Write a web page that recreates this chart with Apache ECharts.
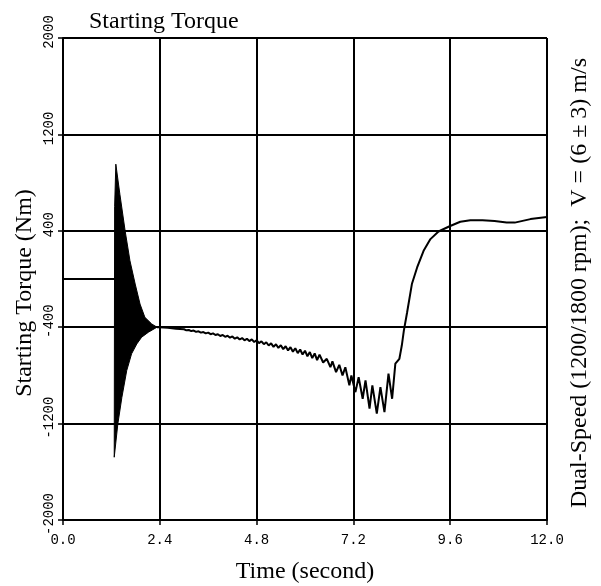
<!DOCTYPE html>
<html>
<head>
<meta charset="utf-8">
<script src="https://cdn.jsdelivr.net/npm/echarts@6/dist/echarts.min.js"></script>
<style>
  html, body { margin: 0; padding: 0; background: #fff; }
  #chart { width: 601px; height: 586px; }
</style>
</head>
<body>
<div id="chart"></div>
<script>
// tick labels
var timeTicks = [0, 2.4, 4.8, 7.2, 9.6, 12];
var torqueTicks = [-2000, -1200, -400, 400, 1200, 2000];

// before switching on: flat at zero
var preTime = [0, 1.28];
var preTorque = [0, 0];

// dense oscillation, drawn as its envelope
var envUpperTime = [1.28, 1.31, 1.41, 1.54, 1.66, 1.79, 1.91, 2.03, 2.20, 2.33];
var envUpper = [600, 953, 704, 400, 151, -42, -208, -318, -373, -400];
var envLowerTime = [1.27, 1.36, 1.46, 1.58, 1.70, 1.83, 1.95, 2.12, 2.33];
var envLower = [-1479, -1202, -982, -760, -621, -539, -483, -441, -400];

// after the transient
var runTime = [
  2.33, 2.40, 2.60, 2.80, 3.00, 3.06, 3.12, 3.18, 3.24, 3.30,
  3.36, 3.42, 3.48, 3.54, 3.60, 3.66, 3.72, 3.78, 3.84, 3.90,
  3.96, 4.02, 4.08, 4.14, 4.20, 4.26, 4.32, 4.38, 4.44, 4.50,
  4.56, 4.62, 4.68, 4.74, 4.80, 4.86, 4.92, 4.98, 5.04, 5.10,
  5.16, 5.22, 5.28, 5.34, 5.40, 5.46, 5.52, 5.58, 5.64, 5.70,
  5.76, 5.82, 5.88, 5.94, 6.00, 6.06, 6.12, 6.18, 6.24, 6.30,
  6.36, 6.45, 6.54, 6.63, 6.68, 6.77, 6.85, 6.93, 7.00, 7.10,
  7.15, 7.25, 7.33, 7.43, 7.50, 7.60, 7.67, 7.78, 7.87, 7.97,
  8.07, 8.16, 8.24, 8.28, 8.34, 8.40, 8.45, 8.53, 8.65, 8.78,
  8.94, 9.11, 9.31, 9.44, 9.60, 9.85, 10.10, 10.40, 10.70, 11.00,
  11.20, 11.59, 12.00
];
var runTorque = [
  -400, -400, -405, -412, -417, -426, -423, -432, -428, -439,
  -434, -445, -440, -451, -445, -458, -451, -465, -458, -473,
  -464, -480, -471, -487, -477, -495, -484, -502, -490, -509,
  -496, -515, -501, -523, -508, -532, -517, -541, -525, -552,
  -534, -563, -542, -572, -549, -582, -558, -593, -566, -603,
  -575, -615, -585, -627, -595, -641, -606, -657, -617, -673,
  -627, -693, -662, -732, -684, -773, -712, -800, -732, -883,
  -800, -939, -815, -994, -842, -1076, -883, -1118, -897, -1105,
  -786, -994, -703, -718, -662, -552, -430, -280, -42, 96,
  234, 331, 394, 415, 440, 475, 487, 488, 481, 469,
  468, 497, 515
];

function pairs(xs, ys) {
  return xs.map(function (x, i) { return [x, ys[i]]; });
}

var chart = echarts.init(document.getElementById('chart'));

var serif = '"Liberation Serif", "DejaVu Serif", serif';
var mono = '"Liberation Mono", "DejaVu Sans Mono", monospace';

var option = {
  animation: false,
  title: {
    text: 'Starting Torque',
    left: 84,
    top: 5,
    textStyle: { fontFamily: serif, fontWeight: 'normal', fontSize: 24, color: '#000' }
  },
  grid: { left: 63, top: 38, width: 484, height: 482, containLabel: false, outerBoundsMode: 'none' },
  xAxis: {
    type: 'value',
    min: timeTicks[0],
    max: timeTicks[timeTicks.length - 1],
    interval: 2.4,
    name: 'Time (second)',
    nameLocation: 'middle',
    nameGap: 40,
    nameTextStyle: { fontFamily: serif, fontSize: 24, color: '#000' },
    axisLine: { onZero: false, lineStyle: { color: '#000', width: 2 } },
    axisTick: { show: true, length: 5, lineStyle: { color: '#000', width: 1.5 } },
    axisLabel: {
      margin: 13,
      fontFamily: mono, fontSize: 14, color: '#000',
      formatter: function (v) { return v.toFixed(1); }
    },
    splitLine: { show: true, lineStyle: { color: '#000', width: 2 } }
  },
  yAxis: {
    type: 'value',
    min: torqueTicks[0],
    max: torqueTicks[torqueTicks.length - 1],
    interval: 800,
    axisLine: { show: true, onZero: false, lineStyle: { color: '#000', width: 2 } },
    axisTick: { show: true, length: 5, lineStyle: { color: '#000', width: 1.5 } },
    axisLabel: {
      rotate: 90,
      margin: 7,
      padding: [0, 0, 0, 12],
      fontFamily: mono, fontSize: 14, color: '#000',
      formatter: function (v) { return String(v); }
    },
    splitLine: { show: true, lineStyle: { color: '#000', width: 2 } }
  },
  graphic: [{
    type: 'text',
    x: 25,
    y: 293,
    rotation: Math.PI / 2,
    style: {
      text: 'Starting Torque (Nm)',
      font: '24px ' + serif,
      fill: '#000',
      align: 'center',
      verticalAlign: 'middle'
    }
  }, {
    type: 'text',
    x: 580,
    y: 283,
    rotation: Math.PI / 2,
    style: {
      text: 'Dual-Speed (1200/1800 rpm);  V = (6 \u00b1 3) m/s',
      font: '24px ' + serif,
      fill: '#000',
      align: 'center',
      verticalAlign: 'middle'
    }
  }],
  series: [
    {
      type: 'line',
      data: pairs(preTime, preTorque),
      showSymbol: false,
      lineStyle: { color: '#000', width: 2 }
    },
    {
      type: 'custom',
      data: [[envUpperTime[0], envUpper[0]]],
      renderItem: function (params, api) {
        var pts = [];
        envUpperTime.forEach(function (t, i) { pts.push(api.coord([t, envUpper[i]])); });
        for (var i = envLowerTime.length - 1; i >= 0; i--) {
          pts.push(api.coord([envLowerTime[i], envLower[i]]));
        }
        return {
          type: 'polygon',
          shape: { points: pts },
          style: { fill: '#000', stroke: '#000', lineWidth: 1 }
        };
      }
    },
    {
      type: 'line',
      data: pairs(runTime, runTorque),
      showSymbol: false,
      lineStyle: { color: '#000', width: 2 }
    }
  ]
};

chart.setOption(option);
</script>
</body>
</html>
